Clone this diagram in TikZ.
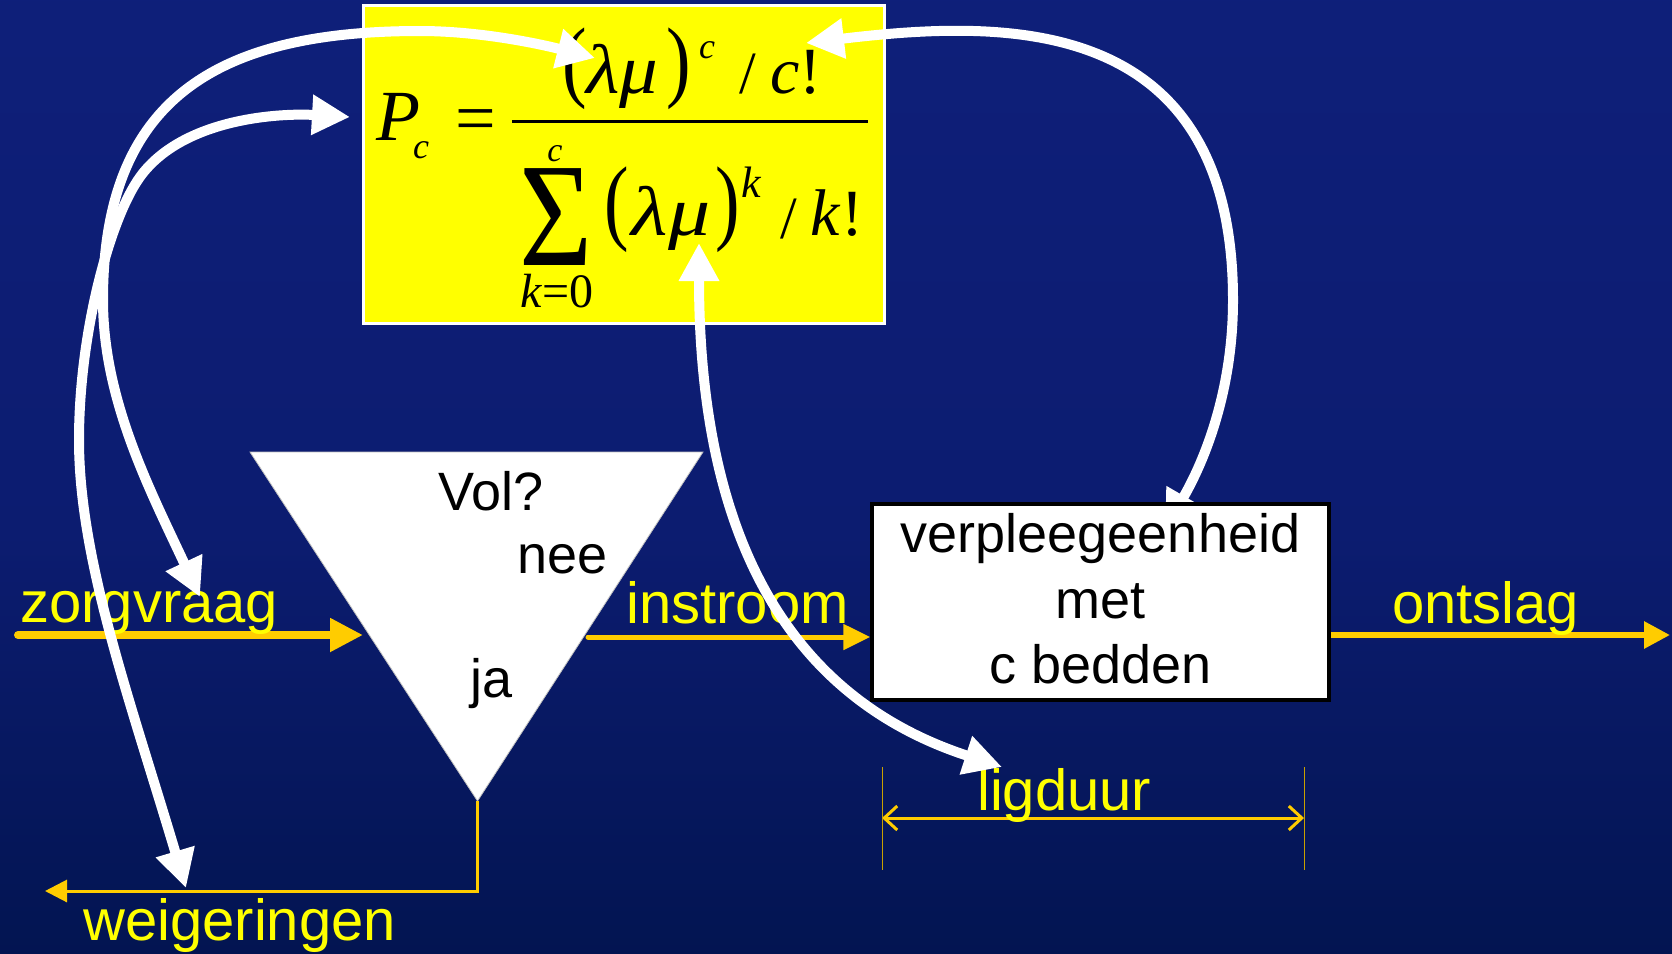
\documentclass[tikz,border=0pt]{standalone}
\usepackage{fontspec}
\newfontfamily\arialf{Liberation Sans}
\newfontfamily\timesf{Liberation Serif}
\newcommand\fsz[1]{\fontsize{#1}{#1}\selectfont}
\usetikzlibrary{arrows.meta}
\definecolor{bgtop}{RGB}{16,34,130}
\definecolor{bgmid}{RGB}{12,28,112}
\definecolor{bgdark}{RGB}{2,20,80}
\definecolor{bgbot}{RGB}{0,16,72}
\definecolor{gold}{RGB}{255,204,0}
\definecolor{goldthin}{RGB}{200,160,0}
\definecolor{ytxt}{RGB}{255,255,0}
\pgfdeclareverticalshading{bgshade}{100bp}{color(0bp)=(bgbot); color(24bp)=(bgdark); color(47bp)=(bgmid); color(100bp)=(bgtop)}
\begin{document}
\begin{tikzpicture}[x=1pt,y=-1pt,
  ylab/.style={text=ytxt, font=\arialf\fsz{58}, inner sep=0pt, anchor=base west},
  blab/.style={text=black, font=\arialf\fsz{54}, inner sep=0pt, anchor=base west},
  bline/.style={text=black, font=\arialf\fsz{54}, inner sep=0pt, anchor=base},
  fm/.style={text=black, inner sep=0pt, anchor=base},
  warc/.style={draw=white, line width=10pt, {Triangle[length=38pt,width=38pt]}-{Triangle[length=38pt,width=38pt]}},
]
\useasboundingbox (0,0) rectangle (1672,953);
\fill[shading=bgshade] (0,0) rectangle (1672,953);

% formula box
\node[draw=white, line width=3pt, fill=ytxt, minimum width=521pt, minimum height=318pt, inner sep=0pt] (fbox) at (623.5,164) {};
% P_c =
\node[fm] (P) at (398,140) {\timesf\itshape\fsz{72}P};
\node[fm] (Psub) at (421,158) {\timesf\itshape\fsz{36}c};
\node[fm] (eq) at (476,142) {\timesf\fsz{72}=};
\draw[black, line width=3pt] (512,121.5) -- (868,121.5);
% numerator
\node[fm] (nlp) at (575,90.5) {\scalebox{1.15}[1.41]{\timesf\fsz{64}(}};
\node[fm] (nlm) at (622,93) {\scalebox{1.1}[1]{\timesf\itshape\fsz{70}λμ}};
\node[fm] (nrp) at (679,90.5) {\scalebox{1.15}[1.41]{\timesf\fsz{64})}};
\node[fm] (nsup) at (707,58) {\timesf\itshape\fsz{36}c};
\node[fm] (nsl) at (747.5,93) {\timesf\fsz{60}/};
\node[fm] (nfac) at (796,93) {\timesf\fsz{66}\textit{c}!};
% denominator
\node[fm] (sig) at (556.5,265) {\scalebox{0.85}[1]{\timesf\fsz{148}Σ}};
\node[fm] (sigup) at (555,161) {\timesf\itshape\fsz{34}c};
\node[fm] (siglo) at (557,307) {\timesf\fsz{48}\textit{k}=0};
\node[fm] (dlp) at (617,232.6) {\scalebox{1.15}[1.48]{\timesf\fsz{64}(}};
\node[fm] (dlm) at (671,235) {\scalebox{1.2}[1]{\timesf\itshape\fsz{70}λμ}};
\node[fm] (drp) at (728,232.6) {\scalebox{1.15}[1.48]{\timesf\fsz{64})}};
\node[fm] (dsup) at (751,197) {\timesf\itshape\fsz{44}k};
\node[fm] (dsl) at (789,238) {\timesf\fsz{60}/};
\node[fm] (dfac) at (837,235) {\timesf\fsz{66}\textit{k}!};

% decision triangle
\coordinate (tl) at (250,452);
\coordinate (tr) at (703,452);
\coordinate (ap) at (477.5,801);
\filldraw[fill=white, draw=gray!50, line width=0.8pt] (tl) -- (tr) -- (ap) -- cycle;
\node[blab] (vol) at (438,510) {Vol?};
\node[blab] (nee) at (517,573) {nee};
\node[blab] (ja) at (470,697) {ja};

% unit box
\node[draw=black, line width=3.5pt, fill=white, minimum width=457pt, minimum height=196pt, inner sep=0pt] (unit) at (1100.5,602) {};

% yellow flows
\coordinate (zvStart) at (18,635);
\coordinate (zvEnd) at (363,635);
\draw[gold, line width=8pt, line cap=round, -{Triangle[length=33pt,width=32pt]}] (zvStart) -- (zvEnd);
\coordinate (instStart) at (588,637);
\draw[gold, line width=5pt, line cap=round, -{Triangle[length=27pt,width=25pt]}] (instStart) -- (instStart -| unit.west);
\coordinate (outEnd) at (1670,635);
\draw[gold, line width=6pt, -{Triangle[length=26pt,width=26pt]}] (outEnd -| unit.east) -- (outEnd);
\coordinate (wgEnd) at (45,891);
\draw[gold, line width=3pt, -{Triangle[length=22pt,width=22pt]}] (ap) |- (wgEnd);
\coordinate (ligL) at (882,818);
\coordinate (ligR) at (1304,818);
\draw[gold, line width=3pt, {Straight Barb[length=13pt,width=24pt]}-{Straight Barb[length=13pt,width=24pt]}] (ligL) -- (ligR);
\draw[goldthin, line width=1pt] (882,767) -- (882,870);
\draw[goldthin, line width=1pt] (1304,767) -- (1304,870);

% yellow labels
\node[ylab] (zv) at (20,622) {zorgvraag};
\node[ylab] (inst) at (626,623) {instroom};
\node[ylab] (ont) at (1392,623) {ontslag};
\node[ylab] (wg) at (83,940) {weigeringen};
\node[ylab] (lig) at (977,810) {ligduur};

% white relation arcs
\coordinate (zvTip) at (200,597);
\coordinate (numTipL) at (595,58);
\coordinate (pcTip) at (350,117);
\coordinate (wgTip) at (186,888);
\coordinate (numTipR) at (806,43);
\coordinate (unitTip) at (1165,529);
\coordinate (denTip) at (699,243);
\coordinate (ligTip) at (1002,767);
\draw[warc] (zvTip) .. controls (150,490) and (103,400) .. (103,300)
  .. controls (103,100) and (215,31) .. (420,31)
  .. controls (480,31) and (540,44) .. (numTipL);
\draw[warc] (wgTip) .. controls (130,700) and (79,560) .. (79,440)
  .. controls (79,330) and (111.5,212) .. (143,173)
  .. controls (187,118) and (280,113) .. (pcTip);
\draw[warc] (numTipR) .. controls (1000,20) and (1233,10) .. (1233,300)
  .. controls (1233,390) and (1205,460) .. (unitTip);
\draw[warc] (denTip) .. controls (699,560) and (805,703) .. (ligTip);

% unit box redrawn on top with its text
\node[draw=black, line width=3.5pt, fill=white, minimum width=457pt, minimum height=196pt, inner sep=0pt] (unitTop) at (unit) {};
\node[bline] (l1) at (1100.5,552) {verpleegeenheid};
\node[bline] (l2) at (1100.5,618) {met};
\node[bline] (l3) at (1100.5,683) {c bedden};
\end{tikzpicture}
\end{document}
